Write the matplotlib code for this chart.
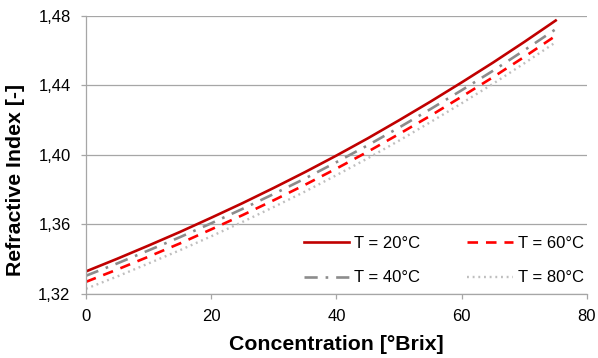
import matplotlib
matplotlib.use("Agg")
import matplotlib.pyplot as plt
from matplotlib.ticker import FuncFormatter

plt.rcParams['font.family'] = ['Liberation Sans', 'DejaVu Sans']

# concentration in °Brix
brix = [0, 5, 10, 15, 20, 25, 30, 35, 40, 45, 50, 55, 60, 65, 70, 75]

# refractive index at each temperature
n_20 = [1.3330, 1.3403, 1.3479, 1.3557, 1.3639, 1.3723, 1.3811, 1.3902,
        1.3997, 1.4096, 1.4200, 1.4307, 1.4418, 1.4532, 1.4651, 1.4774]
n_40 = [1.3305, 1.3376, 1.3451, 1.3527, 1.3607, 1.3690, 1.3776, 1.3865,
        1.3959, 1.4056, 1.4158, 1.4264, 1.4373, 1.4485, 1.4603, 1.4724]
n_60 = [1.3270, 1.3341, 1.3415, 1.3491, 1.3572, 1.3654, 1.3740, 1.3829,
        1.3922, 1.4019, 1.4121, 1.4226, 1.4336, 1.4448, 1.4565, 1.4686]
n_80 = [1.3230, 1.3301, 1.3376, 1.3452, 1.3532, 1.3615, 1.3701, 1.3790,
        1.3884, 1.3981, 1.4083, 1.4189, 1.4298, 1.4410, 1.4528, 1.4649]

labels = ["T = 20°C", "T = 40°C", "T = 60°C", "T = 80°C"]

fig = plt.figure(figsize=(5.98, 3.58), dpi=100)
ax = fig.add_axes([0.1438, 0.1788, 0.8378, 0.7765])

ax.plot(brix, n_20, color="#c00000", lw=1.9, label=labels[0])
ax.plot(brix, n_40, color="#8c8c8c", lw=1.9, dashes=(5, 3, 1, 3), label=labels[1])
ax.plot(brix, n_60, color="#ff0000", lw=1.9, dashes=(4, 3), label=labels[2])
ax.plot(brix, n_80, color="#bfbfbf", lw=1.7, dashes=(0.8, 1.6), label=labels[3])

ax.set_xlim(0, 80)
ax.set_ylim(1.32, 1.48)
ax.set_xticks([0, 20, 40, 60, 80])
ax.set_yticks([1.32, 1.36, 1.40, 1.44, 1.48])
ax.yaxis.set_major_formatter(FuncFormatter(lambda v, p: f"{v:.2f}".replace(".", ",")))

ax.grid(axis="y", color="#a6a6a6", lw=0.9)
ax.set_axisbelow(True)
for side in ["top", "right"]:
    ax.spines[side].set_visible(False)
for side in ["left", "bottom"]:
    ax.spines[side].set_color("#a6a6a6")
    ax.spines[side].set_linewidth(0.9)

ax.tick_params(axis="both", direction="out", length=3.6, width=0.9, color="#a6a6a6",
               labelsize=12, labelcolor="black")
ax.tick_params(axis="x", pad=7)
ax.tick_params(axis="y", pad=7.5)

ax.set_xlabel("Concentration [°Brix]", fontsize=15.3, fontweight="bold", labelpad=8)
ax.set_ylabel("Refractive Index [-]", fontsize=15.3, fontweight="bold")
ax.yaxis.set_label_coords(-0.122, 0.41)

ax.legend(ncol=2, loc="lower right", bbox_to_anchor=(1.024, -0.023), frameon=False,
          fontsize=12, handlelength=2.75, handletextpad=0.3, columnspacing=2.8,
          labelspacing=1.16)

fig.savefig("out.png", dpi=100)
